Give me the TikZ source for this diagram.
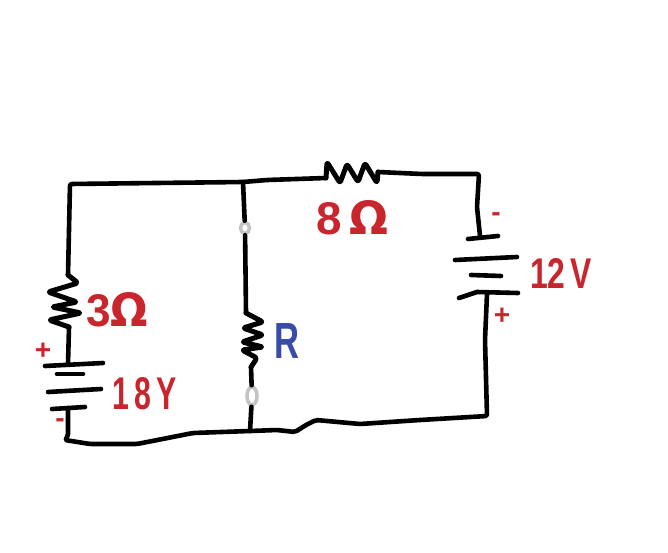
\documentclass[tikz,border=0pt]{standalone}
\usepackage{graphicx}
\usepackage{fontspec}
\setmainfont{Liberation Sans}
\newfontfamily\omfont{DejaVu Sans}
\definecolor{lblred}{HTML}{C9252D}
\definecolor{lblblue}{HTML}{3B4BA8}
\definecolor{termgray}{HTML}{C4C4C4}
\usetikzlibrary{shapes.geometric}
\tikzset{
  wire/.style={draw=black,line width=4.6pt,line cap=round,line join=round,rounded corners=2pt},
  coil/.style={wire,line width=5pt,rounded corners=2.5pt},
  plate/.style={draw=black,line width=4.6pt,line cap=round,line join=round},
  lbl/.style={inner sep=0pt,text=lblred,font=\bfseries},
  sign/.style={inner sep=0pt,text=lblred,font=\fontsize{28}{28}\selectfont\bfseries},
  terminal/.style={ellipse,draw=termgray,line width=3.5pt,fill=white,inner sep=0pt}
}
\begin{document}
\begin{tikzpicture}[x=1pt,y=-1pt]
\useasboundingbox (0,0) rectangle (668,553);
\fill[white] (0,0) rectangle (668,553);
% junctions
\coordinate (TL) at (70,184);
\coordinate (JT) at (243,182);
\coordinate (JB) at (250,431);
\coordinate (BL) at (65,440);
\coordinate (TR) at (479,174);
\coordinate (BR) at (487,416);
\coordinate (RlT) at (68,275);
\coordinate (RlB) at (69,327);
\coordinate (RtL) at (326,178);
\coordinate (RtR) at (378,172);
\coordinate (RmT) at (246,313);
\coordinate (RmB) at (251,367);
\coordinate (BaL) at (68,364);
\coordinate (BaLb) at (68,408);
\coordinate (BaR) at (480,236);
\coordinate (BaRb) at (487,294);
% outer wires
\draw[wire] (RlT) -- (TL) -- (JT) -- (267,180) -- (RtL);
\draw[wire] (RtR) -- (422,174) -- (TR) -- (477,207) -- (BaR);
\draw[wire] (BaRb) -- (485,340) -- (BR) -- (420,420) -- (360,424) -- (316,420) -- (306,425) -- (295,432) -- (277,430) -- (JB) -- (193,433) -- (137,444) -- (90,444) -- (BL) -- (68,436) -- (BaLb);
\draw[wire] (RlB) -- (BaL);
% resistors
\draw[coil] (RlT) -- (78,283) -- (48,292) -- (77,302) -- (52,307) -- (81,313) -- (49,320) -- (RlB);
\draw[coil] (RtL) -- (327,162) -- (340,183) -- (347,164) -- (358,182) -- (365,163) -- (377,183) -- (RtR);
\draw[coil] (RmT) -- (263,322) -- (243,328) -- (263,335) -- (242,342) -- (263,347) -- (242,350) -- (257,358) -- (RmB);
% batteries
\draw[plate] (45,366) -- (103,363);
\draw[plate] (57,374) -- (83,374);
\draw[plate] (48,392) -- (101,389);
\draw[plate] (52,409) -- (85,407);
\draw[plate] (468,239) -- (498,236);
\draw[plate] (455,260) -- (517,257);
\draw[plate] (471,275) -- (501,276);
\draw[plate] (459,298) -- (477,292) -- (518,293);
% middle branch with terminals
\node[terminal,minimum width=9pt,minimum height=11pt] (Tt) at (245,228) {};
\node[terminal,minimum width=10pt,minimum height=18pt] (Tb) at (252,396) {};
\draw[wire] (JT) -- (Tt);
\draw[wire] (Tt) -- (RmT);
\draw[wire] (RmB) -- (Tb);
\draw[wire] (Tb) -- (JB);
% labels
\node[lbl] (l3) at (117,310) {\resizebox{62pt}{34pt}{3{\omfont Ω}}};
\node[lbl] (l18) at (145,394) {\resizebox{64pt}{32pt}{1\,8\,Y}};
\node[lbl] (l8) at (352,218) {\resizebox{72pt}{34pt}{8\,{\omfont Ω}}};
\node[lbl] (l12) at (561,273) {\resizebox{62pt}{30pt}{12\,V}};
\node[lbl,text=lblblue] (lR) at (287,341) {\resizebox{25pt}{35pt}{R}};
\node[sign] (pl) at (43,351) {+};
\node[sign] (ml) at (60,423) {-};
\node[sign] (mr) at (496,217) {-};
\node[sign] (pr) at (502,316) {+};
\end{tikzpicture}
\end{document}
